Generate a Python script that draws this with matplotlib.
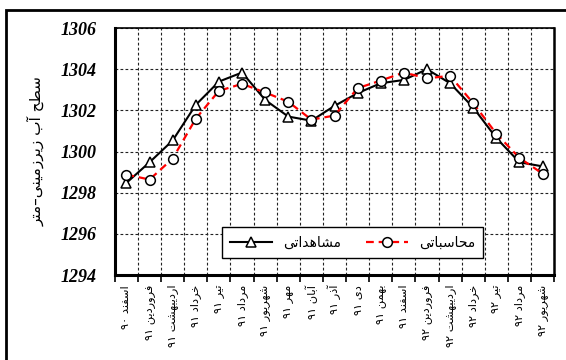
import re
import matplotlib
matplotlib.use("Agg")
import matplotlib.pyplot as plt
from matplotlib.patches import Rectangle

# ---------------- data ----------------
months = ["اسفند ۹۰", "فروردین ۹۱", "اردیبهشت ۹۱", "خرداد ۹۱", "تیر ۹۱", "مرداد ۹۱",
          "شهریور ۹۱", "مهر ۹۱", "آبان ۹۱", "آذر ۹۱", "دی ۹۱", "بهمن ۹۱", "اسفند ۹۱",
          "فروردین ۹۲", "اردیبهشت ۹۲", "خرداد ۹۲", "تیر ۹۲", "مرداد ۹۲", "شهریور ۹۲"]
observed = [1298.48, 1299.48, 1300.54, 1302.27, 1303.40, 1303.84, 1302.51, 1301.70,
            1301.50, 1302.22, 1302.84, 1303.32, 1303.48, 1304.00, 1303.32, 1302.14,
            1300.66, 1299.48, 1299.28]
computed = [1298.88, 1298.64, 1299.66, 1301.60, 1302.95, 1303.29, 1302.87, 1302.42,
            1301.55, 1301.75, 1303.08, 1303.45, 1303.84, 1303.56, 1303.68, 1302.35,
            1300.87, 1299.69, 1298.93]
yticks = [1294, 1296, 1298, 1300, 1302, 1304, 1306]
label_obs = "مشاهداتی"
label_comp = "محاسباتی"
ylabel = "سطح آب زیرزمینی–متر"

# ---------------- minimal Persian shaping ----------------
FORMS = {
    'ا': ('\uFE8D', '\uFE8E', None, None),
    'آ': ('\uFE81', '\uFE82', None, None),
    'ب': ('\uFE8F', '\uFE90', '\uFE91', '\uFE92'),
    'ت': ('\uFE95', '\uFE96', '\uFE97', '\uFE98'),
    'ح': ('\uFEA1', '\uFEA2', '\uFEA3', '\uFEA4'),
    'خ': ('\uFEA5', '\uFEA6', '\uFEA7', '\uFEA8'),
    'د': ('\uFEA9', '\uFEAA', None, None),
    'ذ': ('\uFEAB', '\uFEAC', None, None),
    'ر': ('\uFEAD', '\uFEAE', None, None),
    'ز': ('\uFEAF', '\uFEB0', None, None),
    'س': ('\uFEB1', '\uFEB2', '\uFEB3', '\uFEB4'),
    'ش': ('\uFEB5', '\uFEB6', '\uFEB7', '\uFEB8'),
    'ط': ('\uFEC1', '\uFEC2', '\uFEC3', '\uFEC4'),
    'ف': ('\uFED1', '\uFED2', '\uFED3', '\uFED4'),
    'م': ('\uFEE1', '\uFEE2', '\uFEE3', '\uFEE4'),
    'ن': ('\uFEE5', '\uFEE6', '\uFEE7', '\uFEE8'),
    'ه': ('\uFEE9', '\uFEEA', '\uFEEB', '\uFEEC'),
    'و': ('\uFEED', '\uFEEE', None, None),
    'ی': ('\uFBFC', '\uFBFD', '\uFBFE', '\uFBFF'),
}


def fa(text):
    out = []
    n = len(text)
    for i, ch in enumerate(text):
        if ch not in FORMS:
            out.append(ch)
            continue
        iso, fin, ini, med = FORMS[ch]
        prev = text[i - 1] if i > 0 else ''
        nxt = text[i + 1] if i + 1 < n else ''
        jp = prev in FORMS and FORMS[prev][2] is not None
        jn = ini is not None and nxt in FORMS
        if jp and jn:
            out.append(med)
        elif jp:
            out.append(fin)
        elif jn:
            out.append(ini)
        else:
            out.append(iso)
    shaped = ''.join(out)
    tokens = re.findall(r'[0-9\u06F0-\u06F9]+|.', shaped)
    return ''.join(reversed(tokens))


FA_FONT = ['DejaVu Sans']

# ---------------- figure ----------------
fig = plt.figure(figsize=(5.66, 3.60), dpi=100)
ax = fig.add_axes([0.203, 0.236, 0.776, 0.686])

x = list(range(len(months)))
ax.plot(x, observed, color='black', lw=1.5, marker='^', markersize=7,
        markerfacecolor='white', markeredgecolor='black', markeredgewidth=1.1,
        label=fa(label_obs), zorder=3)
ax.plot(x, computed, color='red', lw=1.6, dashes=(3.5, 2.2), marker='o', markersize=7,
        markerfacecolor='white', markeredgecolor='black', markeredgewidth=1.1,
        label=fa(label_comp), zorder=4)

ax.set_xlim(-0.5, len(months) - 0.5)
ax.set_ylim(1294, 1306)

# y axis
ax.set_yticks(yticks)
ax.set_yticklabels([str(v) for v in yticks], fontfamily='Liberation Serif',
                   fontweight='bold', fontstyle='italic', fontsize=13)
ax.tick_params(axis='y', length=0, pad=13)
ax.grid(axis='y', color='#222222', linestyle=(0, (2.5, 2)), lw=0.8)

# x axis: boundaries as major ticks, labels at centres
bounds = [i + 0.5 for i in range(-1, len(months))]
ax.set_xticks(bounds)
ax.set_xticklabels([])
ax.tick_params(axis='x', which='major', length=5, width=1.2, direction='out')
ax.set_xticks(x, minor=True)
ax.set_xticklabels([fa(m) for m in months], minor=True, rotation=90,
                   fontfamily=FA_FONT, fontsize=8.2, va='top', ha='center')
ax.tick_params(axis='x', which='minor', length=0, pad=7)
ax.grid(axis='x', which='major', color='#222222', linestyle=(0, (2.5, 2)), lw=0.8)

for s in ax.spines.values():
    s.set_linewidth(1.2)
ax.spines['left'].set_linewidth(2.2)
ax.spines['bottom'].set_linewidth(2.2)
ax.spines['right'].set_linewidth(1.8)

ax.set_ylabel(fa(ylabel), fontfamily=FA_FONT, fontsize=11, labelpad=12)

leg = ax.legend(ncol=2, loc='center', bbox_to_anchor=(0.541, 0.132),
                prop={'family': FA_FONT, 'size': 10}, frameon=True, fancybox=False,
                framealpha=1, edgecolor='black', handlelength=3.0,
                columnspacing=1.8, borderpad=0.6)
leg.get_frame().set_linewidth(1.0)

# outer chart border
fig.patches.append(Rectangle((6 / 566, -0.2), 1.2, 0.972 + 0.2, transform=fig.transFigure,
                             fill=False, edgecolor='black', lw=2.0, clip_on=False))

fig.savefig('out.png', dpi=100)
